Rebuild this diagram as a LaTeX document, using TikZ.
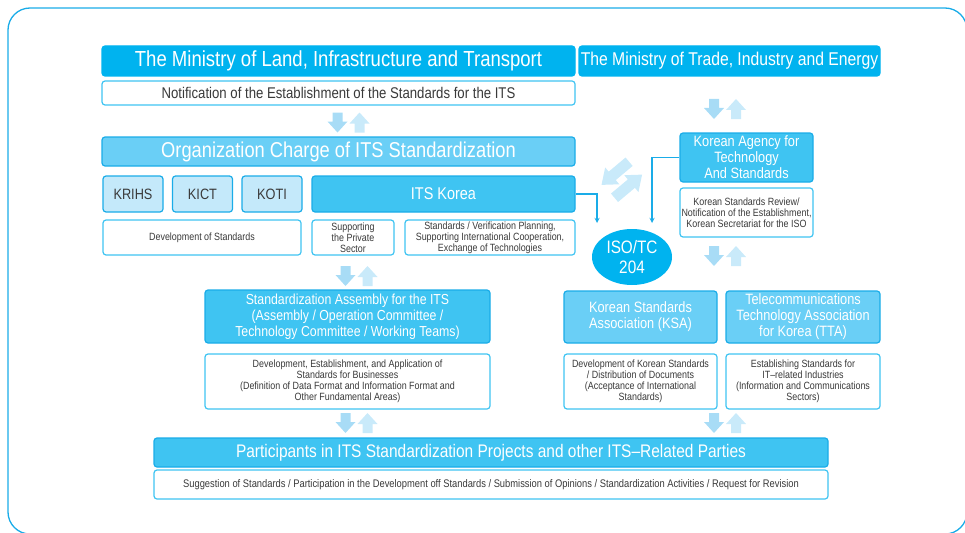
\documentclass[tikz,border=0pt]{standalone}
\usepackage{fontspec}
\setmainfont{Liberation Sans}[FakeStretch=0.85]
\usetikzlibrary{positioning, shapes.geometric}

\definecolor{cyanA}{HTML}{00B3EF}
\definecolor{cyanB}{HTML}{3FC4F2}
\definecolor{cyanC}{HTML}{6ACFF6}
\definecolor{cyanD}{HTML}{C4E9FA}
\definecolor{edge}{HTML}{1AACE8}
\definecolor{arrowdown}{HTML}{A8DCF6}
\definecolor{arrowup}{HTML}{C9EAFA}
\definecolor{txt}{HTML}{3A3A3A}

\begin{document}
\begin{tikzpicture}[x=1pt,y=-1pt,>=stealth,
    box/.style={rounded corners=3pt, inner sep=1pt, align=center, line width=1.2pt},
    head node/.style={box, fill=cyanA, draw=cyanA, text=white, minimum height=30pt},
    main node/.style={box, fill=cyanB, draw=edge, text=white},
    light node/.style={box, fill=cyanC, draw=edge, text=white},
    inst node/.style={box, fill=cyanD, draw=edge, text=txt, minimum width=60pt, minimum height=36pt,
                      font=\fontsize{15}{18}\selectfont},
    desc node/.style={box, fill=white, draw=cyanB, text=txt, font=\fontsize{10.5}{11}\selectfont},
    blockarrow/.pic={\fill (-5,10) -- (-5,1) -- (-10,1) -- (0,-10) -- (10,1) -- (5,1) -- (5,10) -- cycle;},
    slantarrow/.pic={\fill (-5.5,18) -- (-5.5,-4) -- (-11,-4) -- (0,-18) -- (11,-4) -- (5.5,-4) -- (5.5,18) -- cycle;},
    updown/.pic={\pic[color=arrowdown, rotate=180] at (-11,0) {blockarrow};
                 \pic[color=arrowup] at (11,0) {blockarrow};}]

  \useasboundingbox (0,0) rectangle (965,532);
  \clip (0,0) rectangle (965,532);
  \draw[edge, line width=1.3pt, rounded corners=22pt] (8,8) rectangle (967,534);

  % ministries
  \node[head node, minimum width=473pt, font=\fontsize{21.8}{24}\selectfont] (land) at (338.5,61)
    {The Ministry of Land, Infrastructure and Transport};
  \node[head node, minimum width=301pt, font=\fontsize{18.5}{20}\selectfont] (trade) at (729.5,61)
    {The Ministry of Trade, Industry and Energy};
  \node[desc node, minimum width=473pt, minimum height=24pt, font=\fontsize{15.5}{17}\selectfont] (notif) at (338.5,93)
    {Notification of the Establishment of the Standards for the ITS};

  % organization in charge
  \node[light node, minimum width=473pt, minimum height=29pt, font=\fontsize{21.5}{24}\selectfont] (org) at (338.5,151.5)
    {Organization Charge of ITS Standardization};
  \node[inst node] (krihs) at (133,194) {KRIHS};
  \node[inst node] (kict) at (202.5,194) {KICT};
  \node[inst node] (koti) at (272,194) {KOTI};
  \node[main node, minimum width=263pt, minimum height=36pt, font=\fontsize{17}{19}\selectfont] (itskorea) at (443.5,194)
    {ITS Korea};
  \node[desc node, minimum width=198pt, minimum height=35pt] (devstd) at (202,237.5) {Development of Standards};
  \node[desc node, minimum width=82pt, minimum height=35pt] (private) at (353,237.5) {Supporting\\the Private\\Sector};
  \node[desc node, minimum width=170pt, minimum height=35pt] (verif) at (490,237.5)
    {Standards / Verification Planning,\\Supporting International Cooperation,\\Exchange of Technologies};

  % assembly
  \node[main node, minimum width=285pt, minimum height=53pt, font=\fontsize{14.5}{16}\selectfont] (assembly) at (347.5,316.5)
    {Standardization Assembly for the ITS\\(Assembly / Operation Committee /\\Technology Committee / Working Teams)};
  \node[desc node, minimum width=285pt, minimum height=55pt] (asmdesc) at (347.5,381.5)
    {Development, Establishment, and Application of\\Standards for Businesses\\(Definition of Data Format and Information Format and\\Other Fundamental Areas)};

  % participants
  \node[main node, minimum width=674pt, minimum height=29pt, font=\fontsize{18.2}{21}\selectfont] (part) at (491,452.5)
    {Participants in ITS Standardization Projects and other ITS–Related Parties};
  \node[desc node, minimum width=674pt, minimum height=29pt, font=\fontsize{11}{12}\selectfont] (sugg) at (491,484.5)
    {Suggestion of Standards / Participation in the Development off Standards / Submission of Opinions / Standardization Activities / Request for Revision};

  % right branch
  \node[ellipse, fill=cyanA, text=white, minimum width=80pt, minimum height=56pt, inner sep=0pt, align=center,
        font=\fontsize{18}{20}\selectfont] (iso) at (632,257) {ISO/TC\\204};
  \node[main node, minimum width=133pt, minimum height=49pt, font=\fontsize{15}{16}\selectfont] (kats) at (746.5,157.5)
    {Korean Agency for\\Technology\\And Standards};
  \node[desc node, minimum width=133pt, minimum height=49pt] (katsdesc) at (746.5,212.5)
    {Korean Standards Review/\\Notification of the Establishment,\\Korean Secretariat for the ISO};
  \node[light node, minimum width=153pt, minimum height=52pt, font=\fontsize{15}{16}\selectfont] (ksa) at (640.5,317)
    {Korean Standards\\Association (KSA)};
  \node[light node, minimum width=154pt, minimum height=52pt, font=\fontsize{15}{16}\selectfont] (tta) at (803,317)
    {Telecommunications\\Technology Association\\for Korea (TTA)};
  \node[desc node, minimum width=153pt, minimum height=55pt] (ksadesc) at (640.5,381.5)
    {Development of Korean Standards\\/ Distribution of Documents\\(Acceptance of International\\Standards)};
  \node[desc node, minimum width=154pt, minimum height=55pt] (ttadesc) at (803,381.5)
    {Establishing Standards for\\IT–related Industries\\(Information and Communications\\Sectors)};

  % links to ISO/TC 204
  \coordinate (isoleft) at (597,223);
  \coordinate (isoright) at (652,223);
  \draw[->, edge, line width=1.3pt] (itskorea.east) -| (isoleft);
  \draw[->, edge, line width=1.3pt] (kats.west) -| (isoright);

  % block arrows
  \pic at (348.5,122.5) {updown};
  \pic at (356.5,276) {updown};
  \pic at (356.5,423) {updown};
  \pic at (725,109) {updown};
  \pic at (725,256) {updown};
  \pic at (725,423) {updown};
  \pic[color=arrowup, rotate=130] at (615.3,173.3) {slantarrow};
  \pic[color=arrowup, rotate=-50] at (628.3,186.2) {slantarrow};
\end{tikzpicture}
\end{document}
